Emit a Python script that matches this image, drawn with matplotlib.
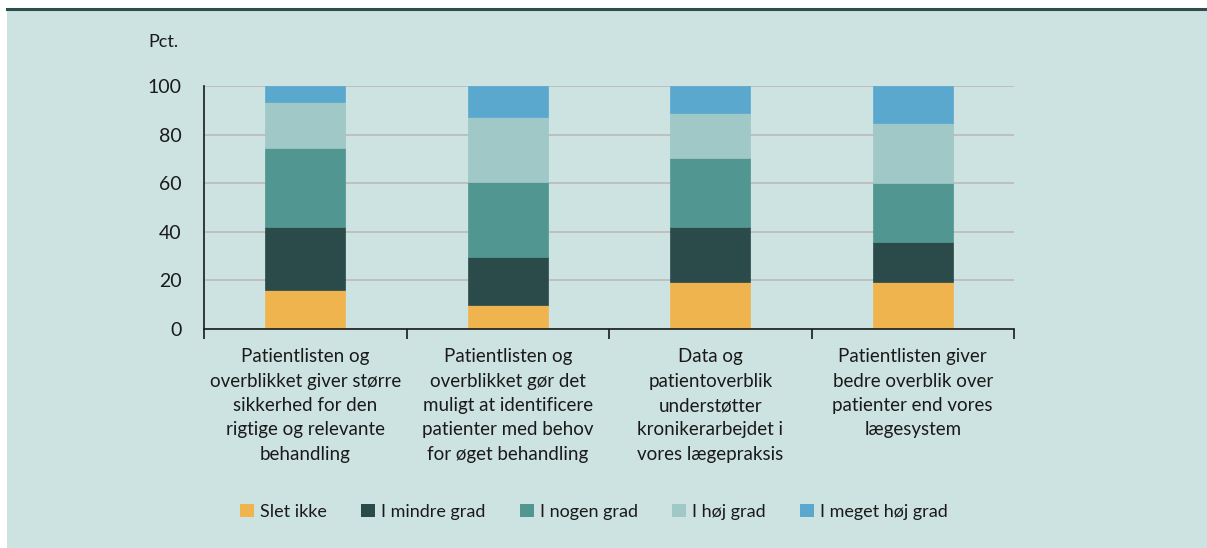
import matplotlib
matplotlib.use("Agg")
import matplotlib.pyplot as plt
from matplotlib.patches import Patch, Rectangle
from matplotlib.lines import Line2D
import numpy as np

categories = [
    "Patientlisten og\noverblikket giver større\nsikkerhed for den\nrigtige og relevante\nbehandling",
    "Patientlisten og\noverblikket gør det\nmuligt at identificere\npatienter med behov\nfor øget behandling",
    "Data og\npatientoverblik\nunderstøtter\nkronikerarbejdet i\nvores lægepraksis",
    "Patientlisten giver\nbedre overblik over\npatienter end vores\nlægesystem",
]
series_names = ["Slet ikke", "I mindre grad", "I nogen grad", "I høj grad", "I meget høj grad"]
slet_ikke = [16.0, 10.0, 19.2, 19.2]
i_mindre_grad = [26.0, 19.6, 22.6, 16.5]
i_nogen_grad = [32.5, 30.9, 28.6, 24.5]
i_hoj_grad = [19.0, 26.7, 18.4, 24.4]
i_meget_hoj_grad = [6.5, 12.8, 11.2, 15.4]
yticks = [0, 20, 40, 60, 80, 100]

colors = ["#f0b44f", "#2b4a4a", "#529692", "#9fc8c6", "#5ba8cf"]
bg = "#cde3e1"
plt.rcParams['font.family'] = ['Lato', 'DejaVu Sans']

fig = plt.figure(figsize=(12.07, 5.48), dpi=100)
fig.patch.set_facecolor("white")
W, H = 1207, 548

# background panel and top rule
bgrect = Rectangle((7 / W, 0), 1 - 7 / W, 1 - 10 / H, transform=fig.transFigure,
                   facecolor=bg, edgecolor="none", zorder=-10)
fig.patches.append(bgrect)
fig.lines.append(Line2D([7 / W, 1], [1 - 8.5 / H, 1 - 8.5 / H], transform=fig.transFigure,
                        color="#2d4f4a", linewidth=2.2, zorder=-5))

ax = fig.add_axes([204 / W, 1 - 329 / H, 810 / W, 243 / H], zorder=1)
ax.set_facecolor(bg)

data = [slet_ikke, i_mindre_grad, i_nogen_grad, i_hoj_grad, i_meget_hoj_grad]
x = np.arange(len(categories))
bottom = np.zeros(len(categories))
for vals, col, name in zip(data, colors, series_names):
    ax.bar(x, vals, bottom=bottom, width=0.395, color=col, label=name, zorder=3,
           edgecolor=col, linewidth=0.5)
    bottom += np.array(vals)

ax.set_xlim(-0.5, len(categories) - 0.5)
ax.set_ylim(0, 100)
ax.set_yticks(yticks)
ax.set_yticklabels([str(v) for v in yticks], fontsize=14, color="#1a1a1a")
ax.yaxis.grid(True, color="#bdbdbd", linewidth=1.3, zorder=0)
ax.tick_params(axis="y", length=0, pad=16)
ax.set_xticks(x)
ax.set_xticklabels(categories, fontsize=13.5, color="#1a1a1a", linespacing=1.52)
ax.set_xticks(np.arange(len(categories) + 1) - 0.5, minor=True)
ax.tick_params(axis="x", which="major", length=0, pad=14)
ax.tick_params(axis="x", which="minor", length=7, width=1.2, color="#1a1a1a", direction="out")

for s in ["top", "right"]:
    ax.spines[s].set_visible(False)
for s in ["left", "bottom"]:
    ax.spines[s].set_color("#1a1a1a")
    ax.spines[s].set_linewidth(1.2)
    ax.spines[s].set_zorder(4)

fig.text(148 / W, 1 - 42 / H, "Pct.", fontsize=13, color="#1a1a1a", va="center", ha="left")

handles = [Patch(facecolor=c, edgecolor="none", label=n) for c, n in zip(colors, series_names)]
leg = fig.legend(handles=handles, loc="center", bbox_to_anchor=(594 / W, 1 - 512 / H), ncol=5,
                 frameon=False, fontsize=13, handlelength=0.75, handleheight=0.75,
                 handletextpad=0.35, columnspacing=1.9)
for t in leg.get_texts():
    t.set_color("#1a1a1a")

fig.savefig("out.png", dpi=100, facecolor=fig.get_facecolor())
